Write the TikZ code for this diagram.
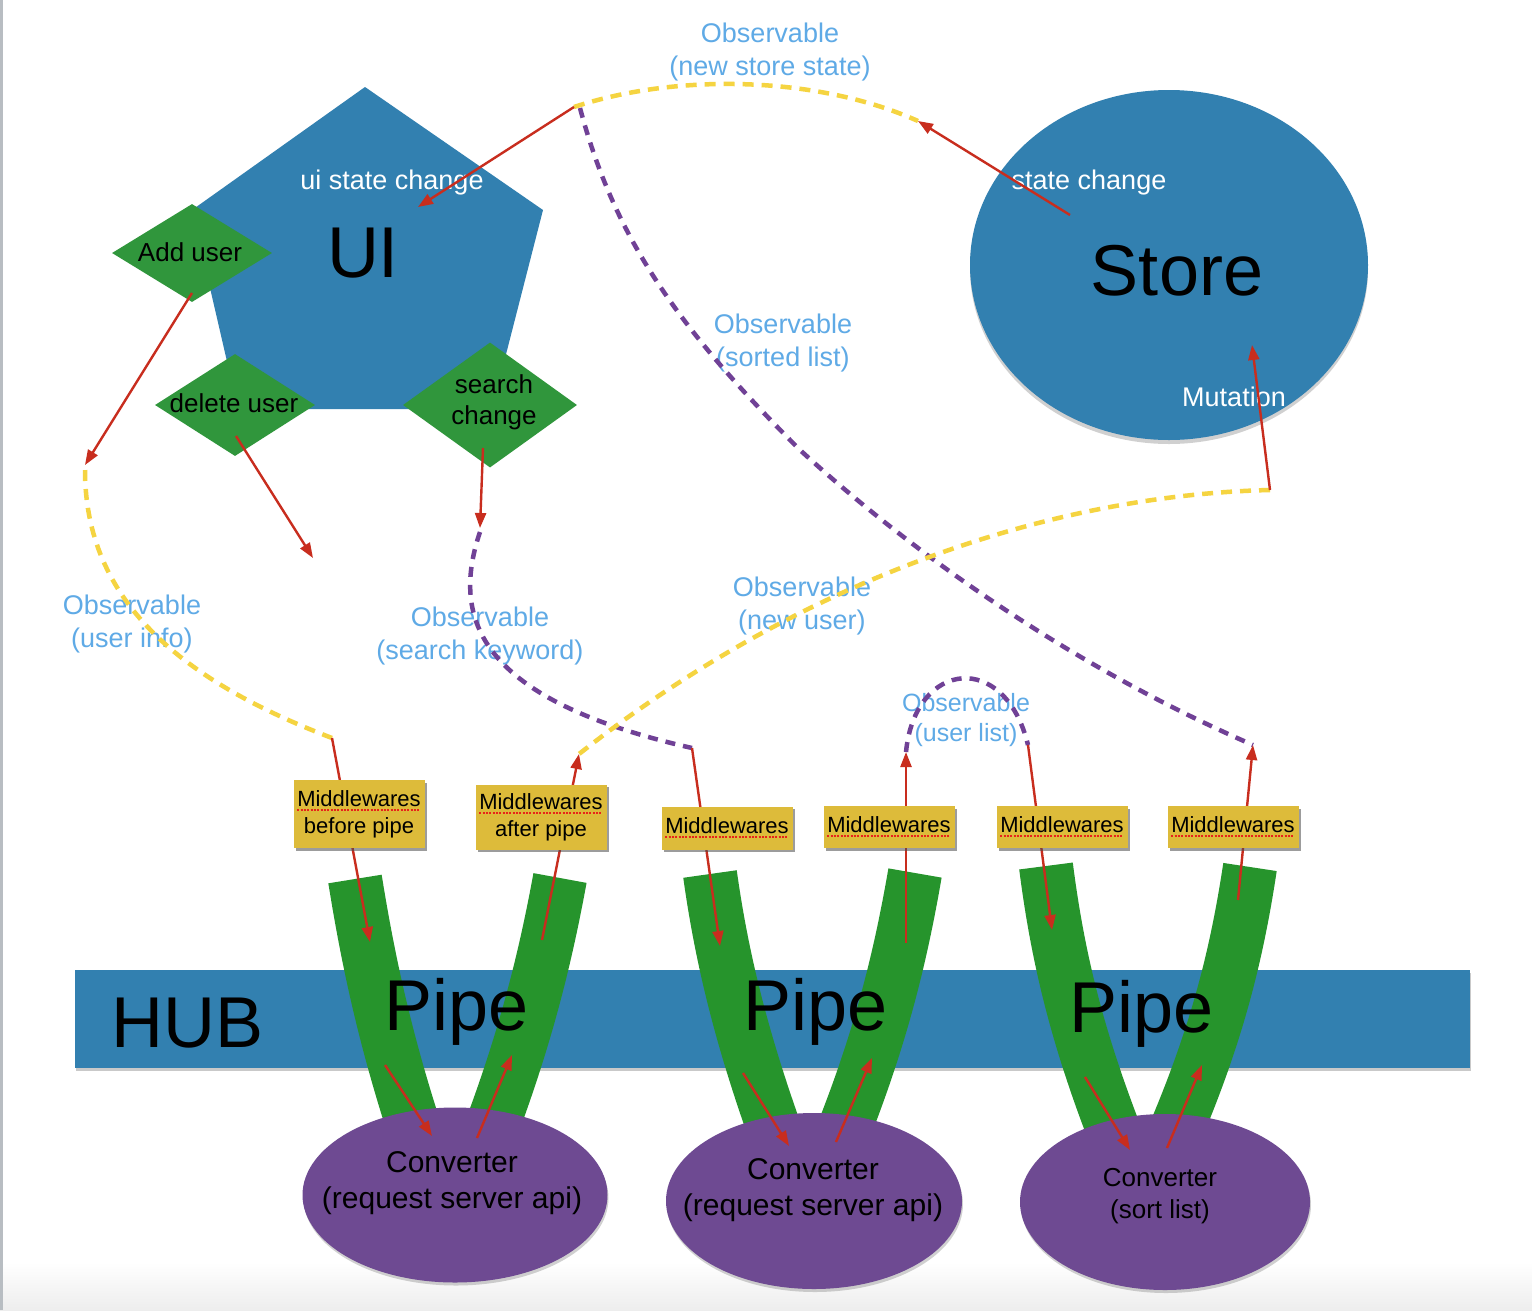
\documentclass[tikz,border=0pt]{standalone}
\usepackage{fontspec}
\setmainfont{Liberation Sans}
\usetikzlibrary{arrows.meta,shapes.geometric,shadows}
\definecolor{hubblue}{HTML}{3280B0}
\definecolor{actgreen}{HTML}{30963C}
\definecolor{pipegreen}{HTML}{26942C}
\definecolor{convpurple}{HTML}{6E4A92}
\definecolor{mwyellow}{HTML}{DDBB3A}
\definecolor{hubred}{HTML}{C82D1E}
\definecolor{spellred}{HTML}{E8231A}
\definecolor{obsblue}{HTML}{5FAAE6}
\definecolor{obsyellow}{HTML}{F5D441}
\definecolor{obspurple}{HTML}{704196}
\definecolor{edgegray}{HTML}{B8BDC2}
\newsavebox{\spellbox}
\newcommand{\spellmark}[1]{\sbox{\spellbox}{#1}\leavevmode\rlap{\raisebox{-4.5pt}{\hbox to \wd\spellbox{\textcolor{spellred}{\xleaders\hbox{\rule{2pt}{1.8pt}\kern1.3pt}\hfill}}}}\usebox{\spellbox}}
\tikzset{
  hub arrow/.style={hubred,line width=2.4pt,-{Triangle[length=15pt,width=11pt]}},
  hub obs yellow/.style={obsyellow,line width=4.5pt,dash pattern=on 11pt off 8pt},
  hub obs purple/.style={obspurple,line width=4.5pt,dash pattern=on 10pt off 8pt},
  hub label/.style={text=obsblue,font=\fontsize{27}{33}\selectfont,align=center},
  hub white/.style={text=white,font=\fontsize{27}{33}\selectfont},
  hub big/.style={font=\fontsize{72}{80}\selectfont},
  hub action/.style={diamond,fill=actgreen,inner sep=0pt},
  hub text/.style={font=\fontsize{26}{31}\selectfont,align=center},
  hub mw/.style={fill=mwyellow,minimum width=131pt,inner sep=1pt,
    font=\fontsize{22}{27}\selectfont,align=center,
    drop shadow={shadow xshift=2.5pt,shadow yshift=-2.5pt,fill=black!70,opacity=.55}},
  hub pipe/.style={pipegreen,line width=54pt,line cap=butt},
  hub conv/.style={ellipse,fill=convpurple,inner sep=0pt,
    drop shadow={shadow xshift=1pt,shadow yshift=-3pt,fill=black!60,opacity=.3}},
  hub conv text/.style={font=\fontsize{30}{36}\selectfont,align=center}
}
\begin{document}
\begin{tikzpicture}[x=1pt,y=-1pt,font=\fontsize{27}{33}\selectfont]
  \useasboundingbox (0,0) rectangle (1532,1310);
  \fill[white] (0,0) rectangle (1532,1310);
  \shade[top color=white,bottom color=black!7] (0,1262) rectangle (1532,1310);
  \fill[edgegray] (0,0) rectangle (2.5,1310);

  % observable labels
  \node[hub label] (obs store) at (770,52) {Observable\\(new store state)};
  \node[hub label] (obs sorted) at (783,343) {Observable\\(sorted list)};
  \node[hub label] (obs info) at (132,624) {Observable\\(user info)};
  \node[hub label] (obs keyword) at (480,636) {Observable\\(search keyword)};
  \node[hub label] (obs newuser) at (802,606) {Observable\\(new user)};
  \node[hub label,font=\fontsize{25}{30}\selectfont] (obs userlist) at (966,720) {Observable\\(user list)};

  % UI
  \fill[hubblue] (365,87) -- (543,210) -- (492,409) -- (238,409) -- (192,210) -- cycle;
  \node[hub big,anchor=base] (ui) at (363,277) {UI};
  \node[hub white] (ui state) at (392,183) {ui state change};
  \node[hub action,minimum width=160pt,minimum height=98pt] (add) at (192,253) {};
  \node[hub text] (add txt) at (190,252) {Add user};
  \node[hub action,minimum width=160pt,minimum height=102pt] (del) at (235,405) {};
  \node[hub text] (del txt) at (234,403) {delete user};
  \node[hub action,minimum width=174pt,minimum height=125pt] (search) at (490,405) {};
  \node[hub text] (search txt) at (494,402) {search\\change};

  % Store
  \node[ellipse,fill=hubblue,minimum width=398pt,minimum height=350pt,
    drop shadow={shadow xshift=0pt,shadow yshift=-4pt,fill=black!60,opacity=.3}] (store) at (1169,265) {};
  \node[hub big,anchor=base] (store txt) at (1177,295) {Store};
  \node[hub white] (store state) at (1089,183) {state change};
  \node[hub white] (mutation) at (1234,397) {Mutation};

  % connector ends
  \coordinate (ui tap) at (574,107);
  \coordinate (ui hit) at (418,207);
  \coordinate (sort top) at (580,108);
  \coordinate (store tap) at (1070,215);
  \coordinate (store arc) at (918,121);
  \coordinate (add tap) at (192,293);
  \coordinate (add end) at (85,465);
  \coordinate (del tap) at (236,436);
  \coordinate (del end) at (313,558);
  \coordinate (search tap) at (483,448);
  \coordinate (search end) at (480,528);
  \coordinate (mut tap) at (1270,490);
  \coordinate (mut end) at (1252,345);
  \coordinate (mw1 top) at (332,738);
  \coordinate (mw2 end) at (579,754);
  \coordinate (mw3 top) at (692,748);
  \coordinate (mw4 end) at (906,752);
  \coordinate (mw5 top) at (1028,745);
  \coordinate (mw6 end) at (1253,745);
  \coordinate (pipe1 in) at (370,942);
  \coordinate (pipe1 out) at (542,940);
  \coordinate (pipe2 in) at (720,946);
  \coordinate (pipe2 out) at (906,943);
  \coordinate (pipe3 in) at (1052,930);
  \coordinate (pipe3 out) at (1238,900);

  % observables
  \draw[hub obs yellow] (ui tap) .. controls (680,72) and (820,77) .. (store arc);
  \draw[hub obs purple] (sort top) .. controls (615,240) and (680,330) .. (800,450)
    .. controls (920,560) and (1080,670) .. (mw6 end);
  \draw[hub obs yellow] ([yshift=-5pt]add end) .. controls (85,600) and (180,680) .. (mw1 top);
  \draw[hub obs purple] ([yshift=-4pt]search end) .. controls (450,620) and (480,700) .. (mw3 top);
  \draw[hub obs yellow] (mut tap) .. controls (1050,495) and (800,580) .. (mw2 end);
  \draw[hub obs purple] (mw4 end) .. controls (915,660) and (1005,650) .. (mw5 top);

  \draw[hub arrow] (ui tap) -- (ui hit);
  \draw[hub arrow] (store tap) -- (store arc);
  \draw[hub arrow] (add tap) -- (add end);
  \draw[hub arrow] (del tap) -- (del end);
  \draw[hub arrow] (search tap) -- (search end);
  \draw[hub arrow] (mut tap) -- (mut end);

  % HUB and pipes
  \node[fill=hubblue,minimum width=1395pt,minimum height=98pt,inner sep=0pt,
    drop shadow={shadow xshift=1pt,shadow yshift=-3pt,fill=black!60,opacity=.35}] (hub) at (772.5,1019) {};
  \node[hub big,anchor=base] (hub txt) at (188,1047) {HUB};
  \draw[hub pipe] (355,879) .. controls (368,960) and (385,1040) .. (418,1140);
  \draw[hub pipe] (560,878) .. controls (545,960) and (525,1040) .. (487,1140);
  \draw[hub pipe] (710,874) .. controls (722,960) and (742,1040) .. (778,1140);
  \draw[hub pipe] (915,873) .. controls (900,960) and (880,1040) .. (840,1140);
  \draw[hub pipe] (1046,866) .. controls (1058,960) and (1078,1040) .. (1118,1142);
  \draw[hub pipe] (1250,867) .. controls (1236,960) and (1215,1040) .. (1171,1142);
  \node[hub big,anchor=base] (pipe1) at (457,1030) {Pipe};
  \node[hub big,anchor=base] (pipe2) at (816,1030) {Pipe};
  \node[hub big,anchor=base] (pipe3) at (1142,1032) {Pipe};

  % converters
  \node[hub conv,minimum width=305pt,minimum height=175pt] (conv1) at (455,1195) {};
  \node[hub conv,minimum width=296pt,minimum height=176pt] (conv2) at (814,1201) {};
  \node[hub conv,minimum width=290pt,minimum height=176pt] (conv3) at (1165,1202) {};
  \node[hub conv text] (conv1 txt) at (452,1183) {Converter\\(request server api)};
  \node[hub conv text] (conv2 txt) at (813,1190) {Converter\\(request server api)};
  \node[hub conv text,font=\fontsize{26}{32}\selectfont] (conv3 txt) at (1160,1196) {Converter\\(sort list)};

  \coordinate (c1 a) at (385,1065); \coordinate (c1 b) at (432,1136);
  \coordinate (c1 c) at (477,1138); \coordinate (c1 d) at (512,1055);
  \coordinate (c2 a) at (743,1073); \coordinate (c2 b) at (789,1146);
  \coordinate (c2 c) at (836,1142); \coordinate (c2 d) at (872,1058);
  \coordinate (c3 a) at (1085,1077); \coordinate (c3 b) at (1130,1150);
  \coordinate (c3 c) at (1167,1148); \coordinate (c3 d) at (1202,1065);
  \foreach \i in {1,2,3}{
    \draw[hub arrow] (c\i\space a) -- (c\i\space b);
    \draw[hub arrow] (c\i\space c) -- (c\i\space d);
  }

  % middlewares
  \draw[hub arrow] (mw1 top) -- (pipe1 in);
  \draw[hub arrow] (pipe1 out) -- (mw2 end);
  \draw[hub arrow] (mw3 top) -- (pipe2 in);
  \draw[hub arrow] (pipe2 out) -- (mw4 end);
  \draw[hub arrow] (mw5 top) -- (pipe3 in);
  \draw[hub arrow] (pipe3 out) -- (mw6 end);
  \node[hub mw,minimum height=68pt] (mw1) at (359,814) {\spellmark{Middlewares}\\before pipe};
  \node[hub mw,minimum height=65pt] (mw2) at (541,817) {\spellmark{Middlewares}\\after pipe};
  \node[hub mw,minimum height=43pt] (mw3) at (727,828) {\spellmark{Middlewares}};
  \node[hub mw,minimum height=42pt] (mw4) at (889,827) {\spellmark{Middlewares}};
  \node[hub mw,minimum height=42pt] (mw5) at (1062,827) {\spellmark{Middlewares}};
  \node[hub mw,minimum height=42pt] (mw6) at (1233,827) {\spellmark{Middlewares}};
\end{tikzpicture}
\end{document}
